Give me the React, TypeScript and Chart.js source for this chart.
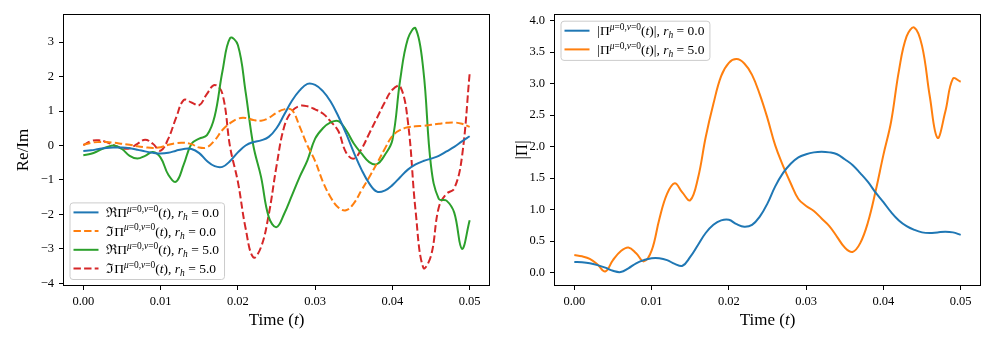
import React, { useEffect, useRef } from "react";
import { Chart, registerables } from "chart.js";

Chart.register(...registerables);

// ---------------- data ----------------
const TIME = [
  0.000, 0.001, 0.002, 0.003, 0.004, 0.005, 0.006, 0.007, 0.008, 0.009,
  0.010, 0.011, 0.012, 0.013, 0.014, 0.015, 0.016, 0.017, 0.018, 0.019,
  0.020, 0.021, 0.022, 0.023, 0.024, 0.025, 0.026, 0.027, 0.028, 0.029,
  0.030, 0.031, 0.032, 0.033, 0.034, 0.035, 0.036, 0.037, 0.038, 0.039,
  0.040, 0.041, 0.042, 0.043, 0.044, 0.045, 0.046, 0.047, 0.048, 0.049,
  0.050,
];

// Re Pi, r_h = 0.0
const RE_R0 = [
  -0.16, -0.14, -0.10, -0.07, -0.06, -0.06, -0.08, -0.12, -0.17, -0.21,
  -0.23, -0.21, -0.15, -0.10, -0.10, -0.22, -0.45, -0.60, -0.62, -0.45,
  -0.20, 0.00, 0.10, 0.15, 0.25, 0.50, 0.90, 1.30, 1.60, 1.79,
  1.76, 1.58, 1.28, 0.85, 0.35, -0.20, -0.70, -1.10, -1.34, -1.31,
  -1.15, -0.92, -0.70, -0.55, -0.45, -0.38, -0.30, -0.17, -0.04, 0.12,
  0.27,
];
// Im Pi, r_h = 0.0
const IM_R0 = [
  0.02, 0.08, 0.10, 0.10, 0.08, 0.05, 0.02, -0.02, -0.05, -0.07,
  -0.05, 0.02, 0.07, 0.08, 0.04, -0.06, -0.05, 0.15, 0.45, 0.65,
  0.78, 0.80, 0.74, 0.72, 0.80, 0.95, 1.05, 1.03, 0.55, 0.00,
  -0.45, -1.05, -1.50, -1.80, -1.88, -1.68, -1.30, -0.92, -0.52, -0.10,
  0.28, 0.45, 0.53, 0.56, 0.57, 0.60, 0.63, 0.66, 0.67, 0.63,
  0.54,
];
// Re Pi, r_h = 5.0
const RE_R5 = [
  -0.28, -0.24, -0.15, -0.05, 0.00, -0.10, -0.30, -0.38, -0.30, -0.19,
  -0.35, -0.85, -1.05, -0.55, 0.05, 0.20, 0.30, 0.85, 2.15, 3.12,
  2.92, 1.56, 0.00, -0.91, -2.08, -2.37, -1.98, -1.45, -0.91, -0.43,
  0.20, 0.50, 0.67, 0.71, 0.45, 0.06, -0.23, -0.48, -0.54, -0.28,
  0.16, 1.90, 3.10, 3.40, 2.20, -0.60, -1.55, -1.60, -1.95, -3.00,
  -2.17,
];
// Im Pi, r_h = 5.0
const IM_R5 = [
  0.01, 0.13, 0.15, 0.10, 0.00, -0.08, -0.08, 0.05, 0.17, 0.05,
  -0.15, 0.20, 0.80, 1.32, 1.25, 1.17, 1.50, 1.76, 1.50, -0.05,
  -1.05, -2.40, -3.25, -2.95, -2.00, -0.60, 0.55, 1.00, 1.15, 1.14,
  1.05, 0.93, 0.70, 0.42, -0.20, -0.38, -0.10, 0.35, 0.80, 1.25,
  1.62, 1.72, 0.70, -1.90, -3.55, -3.20, -1.80, -1.40, -1.25, -0.33,
  2.10,
];
// |Pi|, r_h = 0.0
const ABS_R0 = [
  0.17, 0.165, 0.15, 0.12, 0.08, 0.03, 0.01, 0.07, 0.15, 0.20,
  0.23, 0.23, 0.20, 0.14, 0.11, 0.25, 0.44, 0.63, 0.76, 0.83,
  0.84, 0.77, 0.73, 0.76, 0.89, 1.10, 1.37, 1.58, 1.73, 1.83,
  1.88, 1.91, 1.92, 1.91, 1.88, 1.80, 1.71, 1.58, 1.44, 1.27,
  1.12, 0.96, 0.83, 0.74, 0.68, 0.64, 0.63, 0.64, 0.65, 0.64,
  0.60,
];
// |Pi|, r_h = 5.0
const ABS_R5 = [
  0.28, 0.26, 0.22, 0.13, 0.02, 0.20, 0.34, 0.40, 0.31, 0.18,
  0.35, 0.85, 1.25, 1.42, 1.27, 1.15, 1.50, 2.15, 2.68, 3.12,
  3.33, 3.39, 3.32, 3.14, 2.83, 2.45, 2.02, 1.70, 1.42, 1.17,
  1.06, 0.98, 0.86, 0.74, 0.57, 0.40, 0.33, 0.47, 0.80, 1.30,
  1.87, 2.40, 3.20, 3.75, 3.89, 3.60, 2.80, 2.14, 2.55, 3.08,
  3.03,
];

const X_TICKS = [0.0, 0.01, 0.02, 0.03, 0.04, 0.05];
const LEFT_Y_TICKS = [-4, -3, -2, -1, 0, 1, 2, 3];
const RIGHT_Y_TICKS = [0.0, 0.5, 1.0, 1.5, 2.0, 2.5, 3.0, 3.5, 4.0];
const RH_LABELS = ["0.0", "5.0"];

const BLUE = "#1f77b4";
const ORANGE = "#ff7f0e";
const GREEN = "#2ca02c";
const RED = "#d62728";

const SERIF = '"Liberation Serif", "DejaVu Serif", serif';
const TICK_SIZE = 12.5;
const LEGEND_SIZE = 13.5;
const TITLE_SIZE = 17;
const DASH = [7.4, 3.2];

// ---------------- rich text ----------------
type Seg = { t: string; it?: boolean; pos?: "sup" | "sub" };

const SUP: Seg[] = [
  { t: "μ", it: true, pos: "sup" },
  { t: "=0,", pos: "sup" },
  { t: "ν", it: true, pos: "sup" },
  { t: "=0", pos: "sup" },
];
const tail = (close: string, rh: string): Seg[] => [
  { t: "(" },
  { t: "t", it: true },
  { t: close + ", " },
  { t: "r", it: true },
  { t: "h", it: true, pos: "sub" },
  { t: " = " + rh },
];
const reLabel = (rh: string): Seg[] => [{ t: "ℜΠ" }, ...SUP, ...tail(")", rh)];
const imLabel = (rh: string): Seg[] => [{ t: "ℑΠ" }, ...SUP, ...tail(")", rh)];
const absLabel = (rh: string): Seg[] => [{ t: "|Π" }, ...SUP, ...tail(")|", rh)];
const X_TITLE: Seg[] = [{ t: "Time (" }, { t: "t", it: true }, { t: ")" }];

function segFont(s: Seg, size: number) {
  const sz = s.pos ? size * 0.7 : size;
  return `${s.it ? "italic " : ""}${sz}px ${SERIF}`;
}
function segsWidth(ctx: CanvasRenderingContext2D, segs: Seg[], size: number) {
  let w = 0;
  for (const s of segs) {
    ctx.font = segFont(s, size);
    w += ctx.measureText(s.t).width;
  }
  return w;
}
function drawSegs(ctx: CanvasRenderingContext2D, segs: Seg[], x: number, y: number, size: number) {
  ctx.textBaseline = "alphabetic";
  ctx.textAlign = "left";
  let cx = x;
  for (const s of segs) {
    ctx.font = segFont(s, size);
    const dy = s.pos === "sup" ? -size * 0.4 : s.pos === "sub" ? size * 0.22 : 0;
    ctx.fillText(s.t, cx, y + dy);
    cx += ctx.measureText(s.t).width;
  }
}

type LegendItem = { color: string; dash: number[]; segs: Seg[] };

const decorPlugin = {
  id: "decor",
  afterDraw(chart: any, _args: any, opts: any) {
    const ctx: CanvasRenderingContext2D = chart.ctx;
    const a = chart.chartArea;
    ctx.save();
    // four spines
    ctx.strokeStyle = "#000";
    ctx.lineWidth = 1;
    ctx.setLineDash([]);
    ctx.strokeRect(a.left - 0.5, a.top - 0.5, a.right - a.left + 1, a.bottom - a.top + 1);

    // legend
    const items: LegendItem[] = opts.items || [];
    if (items.length) {
      const size = LEGEND_SIZE;
      const tw = Math.max(...items.map((it) => segsWidth(ctx, it.segs, size)));
      const w = 36.7 + tw + 5;
      const rowGap = 18.7;
      const h = 20.5 + (items.length - 1) * rowGap;
      const x0 = a.left + 5.5;
      const y0 = opts.corner === "lower" ? a.bottom - 6 - h : a.top + 5.7;
      ctx.beginPath();
      (ctx as any).roundRect(x0 + 0.5, y0 + 0.5, w, h, 3);
      ctx.fillStyle = "rgba(255,255,255,0.8)";
      ctx.fill();
      ctx.strokeStyle = "#cccccc";
      ctx.lineWidth = 1;
      ctx.stroke();
      items.forEach((it, i) => {
        const yc = y0 + 10 + i * rowGap;
        ctx.beginPath();
        ctx.setLineDash(it.dash);
        ctx.strokeStyle = it.color;
        ctx.lineWidth = 2;
        ctx.moveTo(x0 + 4, yc);
        ctx.lineTo(x0 + 29, yc);
        ctx.stroke();
        ctx.setLineDash([]);
        ctx.fillStyle = "#000";
        drawSegs(ctx, it.segs, x0 + 36.7, yc + 4.5, size);
      });
    }

    // x axis title
    ctx.fillStyle = "#000";
    const tw2 = segsWidth(ctx, X_TITLE, TITLE_SIZE);
    drawSegs(ctx, X_TITLE, (a.left + a.right) / 2 - tw2 / 2, 324.5, TITLE_SIZE);
    ctx.restore();
  },
};

const fmtMinus = (v: number, digits: number) => {
  const s = Math.abs(v).toFixed(digits);
  return v < 0 ? "\u2212" + s : s;
};

type PanelSpec = {
  width: number;
  padRight: number;
  yWidth: number;
  yMin: number;
  yMax: number;
  yTicks: number[];
  yDigits: number;
  yTitle: string;
  yTitlePad: number;
  series: { values: number[]; color: string; dash: number[]; segs: Seg[] }[];
  corner: "lower" | "upper";
};

function buildConfig(p: PanelSpec): any {
  const tickFont = { family: SERIF, size: TICK_SIZE };
  const grid = {
    display: true,
    drawOnChartArea: false,
    drawTicks: true,
    tickLength: 5,
    color: "#000",
    lineWidth: 1,
  };
  return {
    type: "line",
    data: {
      datasets: p.series.map((s) => ({
        label: s.segs.map((g) => g.t).join(""),
        data: TIME.map((t, i) => ({ x: t, y: s.values[i] })),
        borderColor: s.color,
        backgroundColor: s.color,
        borderWidth: 2,
        borderDash: s.dash,
        pointRadius: 0,
        tension: 0.4,
        fill: false,
      })),
    },
    options: {
      animation: false,
      responsive: false,
      devicePixelRatio: 1,
      events: [],
      layout: { padding: { left: 0, top: 15, right: p.padRight, bottom: 0 } },
      plugins: {
        legend: { display: false },
        tooltip: { enabled: false },
        decor: {
          corner: p.corner,
          items: p.series.map((s) => ({ color: s.color, dash: s.dash, segs: s.segs })),
        },
      },
      scales: {
        x: {
          type: "linear",
          min: -0.0025,
          max: 0.0525,
          afterBuildTicks: (s: any) => {
            s.ticks = X_TICKS.map((v) => ({ value: v }));
          },
          afterFit: (s: any) => {
            s.height = 59;
          },
          ticks: {
            callback: (v: any) => Number(v).toFixed(2),
            font: tickFont,
            color: "#000",
            padding: 4,
            maxRotation: 0,
            autoSkip: false,
          },
          grid,
          border: { display: false },
        },
        y: {
          type: "linear",
          min: p.yMin,
          max: p.yMax,
          afterBuildTicks: (s: any) => {
            s.ticks = p.yTicks.map((v) => ({ value: v }));
          },
          afterFit: (s: any) => {
            s.width = p.yWidth;
          },
          ticks: {
            callback: (v: any) => fmtMinus(Number(v), p.yDigits),
            font: tickFont,
            color: "#000",
            padding: 5,
            autoSkip: false,
          },
          grid,
          border: { display: false },
          title: {
            display: true,
            text: p.yTitle,
            color: "#000",
            font: { family: SERIF, size: TITLE_SIZE },
            padding: { top: p.yTitlePad, bottom: 0 },
          },
        },
      },
    },
    plugins: [decorPlugin],
  };
}

function Panel({ spec, left }: { spec: PanelSpec; left: number }) {
  const ref = useRef<HTMLCanvasElement | null>(null);
  useEffect(() => {
    if (!ref.current) return;
    const chart = new Chart(ref.current, buildConfig(spec));
    return () => chart.destroy();
  }, []);
  return (
    <canvas
      ref={ref}
      width={spec.width}
      height={344}
      style={{ position: "absolute", left, top: 0, width: spec.width, height: 344, display: "block" }}
    />
  );
}

const LEFT_SPEC: PanelSpec = {
  width: 498,
  padRight: 9,
  yWidth: 64,
  yMin: -4.05,
  yMax: 3.79,
  yTicks: LEFT_Y_TICKS,
  yDigits: 0,
  yTitle: "Re/Im",
  yTitlePad: 13,
  corner: "lower",
  series: [
    { values: RE_R0, color: BLUE, dash: [], segs: reLabel(RH_LABELS[0]) },
    { values: IM_R0, color: ORANGE, dash: DASH, segs: imLabel(RH_LABELS[0]) },
    { values: RE_R5, color: GREEN, dash: [], segs: reLabel(RH_LABELS[1]) },
    { values: IM_R5, color: RED, dash: DASH, segs: imLabel(RH_LABELS[1]) },
  ],
};

const RIGHT_SPEC: PanelSpec = {
  width: 499,
  padRight: 17,
  yWidth: 57,
  yMin: -0.195,
  yMax: 4.09,
  yTicks: RIGHT_Y_TICKS,
  yDigits: 1,
  yTitle: "|Π|",
  yTitlePad: 14,
  corner: "upper",
  series: [
    { values: ABS_R0, color: BLUE, dash: [], segs: absLabel(RH_LABELS[0]) },
    { values: ABS_R5, color: ORANGE, dash: [], segs: absLabel(RH_LABELS[1]) },
  ],
};

export default function App() {
  return (
    <div style={{ position: "absolute", left: 0, top: 0, width: 997, height: 344, background: "#fff" }}>
      <Panel spec={LEFT_SPEC} left={0} />
      <Panel spec={RIGHT_SPEC} left={498} />
    </div>
  );
}
